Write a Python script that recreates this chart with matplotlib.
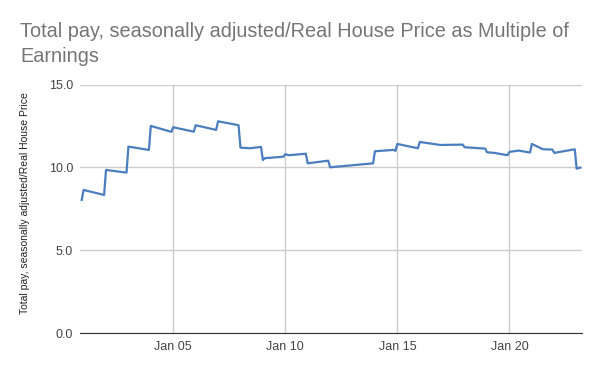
import matplotlib
matplotlib.use('Agg')
import matplotlib.pyplot as plt
import matplotlib.dates as mdates
import pandas as pd

# vertices of the monthly series
fechas = ['2000-12', '2001-01', '2001-12', '2002-01', '2002-12', '2003-01', '2003-12',
          '2004-01', '2004-12', '2005-01', '2005-12', '2006-01', '2006-12', '2007-01',
          '2007-12', '2008-01', '2008-06', '2008-12', '2009-01', '2009-02', '2009-12',
          '2010-01', '2010-03', '2010-12', '2011-01', '2011-12', '2012-01', '2013-12',
          '2014-01', '2014-11', '2014-12', '2015-01', '2015-12', '2016-01', '2016-12',
          '2017-12', '2018-01', '2018-12', '2019-01', '2019-05', '2019-08', '2019-12',
          '2020-01', '2020-06', '2020-12', '2021-01', '2021-07', '2021-12', '2022-01',
          '2022-12', '2023-01', '2023-03']
valores = [8.04, 8.64, 8.34, 9.85, 9.69, 11.26, 11.06,
           12.51, 12.15, 12.43, 12.16, 12.55, 12.27, 12.79,
           12.55, 11.20, 11.16, 11.24, 10.45, 10.56, 10.65,
           10.80, 10.74, 10.83, 10.25, 10.41, 10.01, 10.25,
           10.98, 11.06, 11.00, 11.42, 11.16, 11.54, 11.36,
           11.38, 11.22, 11.14, 10.92, 10.88, 10.82, 10.74,
           10.94, 11.02, 10.90, 11.42, 11.10, 11.08, 10.88,
           11.10, 9.93, 9.99]

y_ticks = [0, 5, 10, 15]
x_ticks = ['2005-01-01', '2010-01-01', '2015-01-01', '2020-01-01']

titulo = 'Total pay, seasonally adjusted/Real House Price as Multiple of\nEarnings'
ylabel = 'Total pay, seasonally adjusted/Real House Price'

fechas = pd.to_datetime(fechas)
plt.rcParams['font.family'] = ['Liberation Sans', 'DejaVu Sans']

fig = plt.figure(figsize=(6, 3.71), dpi=100)
ax = fig.add_axes([80 / 600, 1 - 333 / 371, 502 / 600, (333 - 84.7) / 371])

ax.plot(fechas, valores, color='#4a7ebf', linewidth=1.6)

ax.set_ylim(0, 15)
ax.set_xlim(fechas[0] - pd.Timedelta(days=28), fechas[-1] + pd.Timedelta(days=28))
ax.set_yticks(y_ticks)
ax.set_yticklabels([f'{v:.1f}' for v in y_ticks])
ax.set_xticks(pd.to_datetime(x_ticks))
ax.xaxis.set_major_formatter(mdates.DateFormatter('Jan %y'))

ax.grid(True, color='#cccccc', linewidth=1)
ax.set_axisbelow(True)
for s in ['top', 'right', 'left']:
    ax.spines[s].set_visible(False)
ax.spines['bottom'].set_color('#333333')
ax.tick_params(length=0, labelsize=9, labelcolor='#444444')
ax.tick_params(axis='y', pad=5)
ax.tick_params(axis='x', pad=6)

# eje y: etiqueta colocada a mano
fig.text(25 / 600, 1 - 203 / 371, ylabel, fontsize=7.5, color='#222222',
         rotation=90, ha='center', va='center')

fig.text(20 / 600, 1 - 37.3 / 371, titulo.split('\n')[0], fontsize=14.3,
         color='#757575', va='baseline', ha='left')
fig.text(20 / 600, 1 - 61.7 / 371, titulo.split('\n')[1], fontsize=14.3,
         color='#757575', va='baseline', ha='left')

fig.savefig('out.png', dpi=100)
